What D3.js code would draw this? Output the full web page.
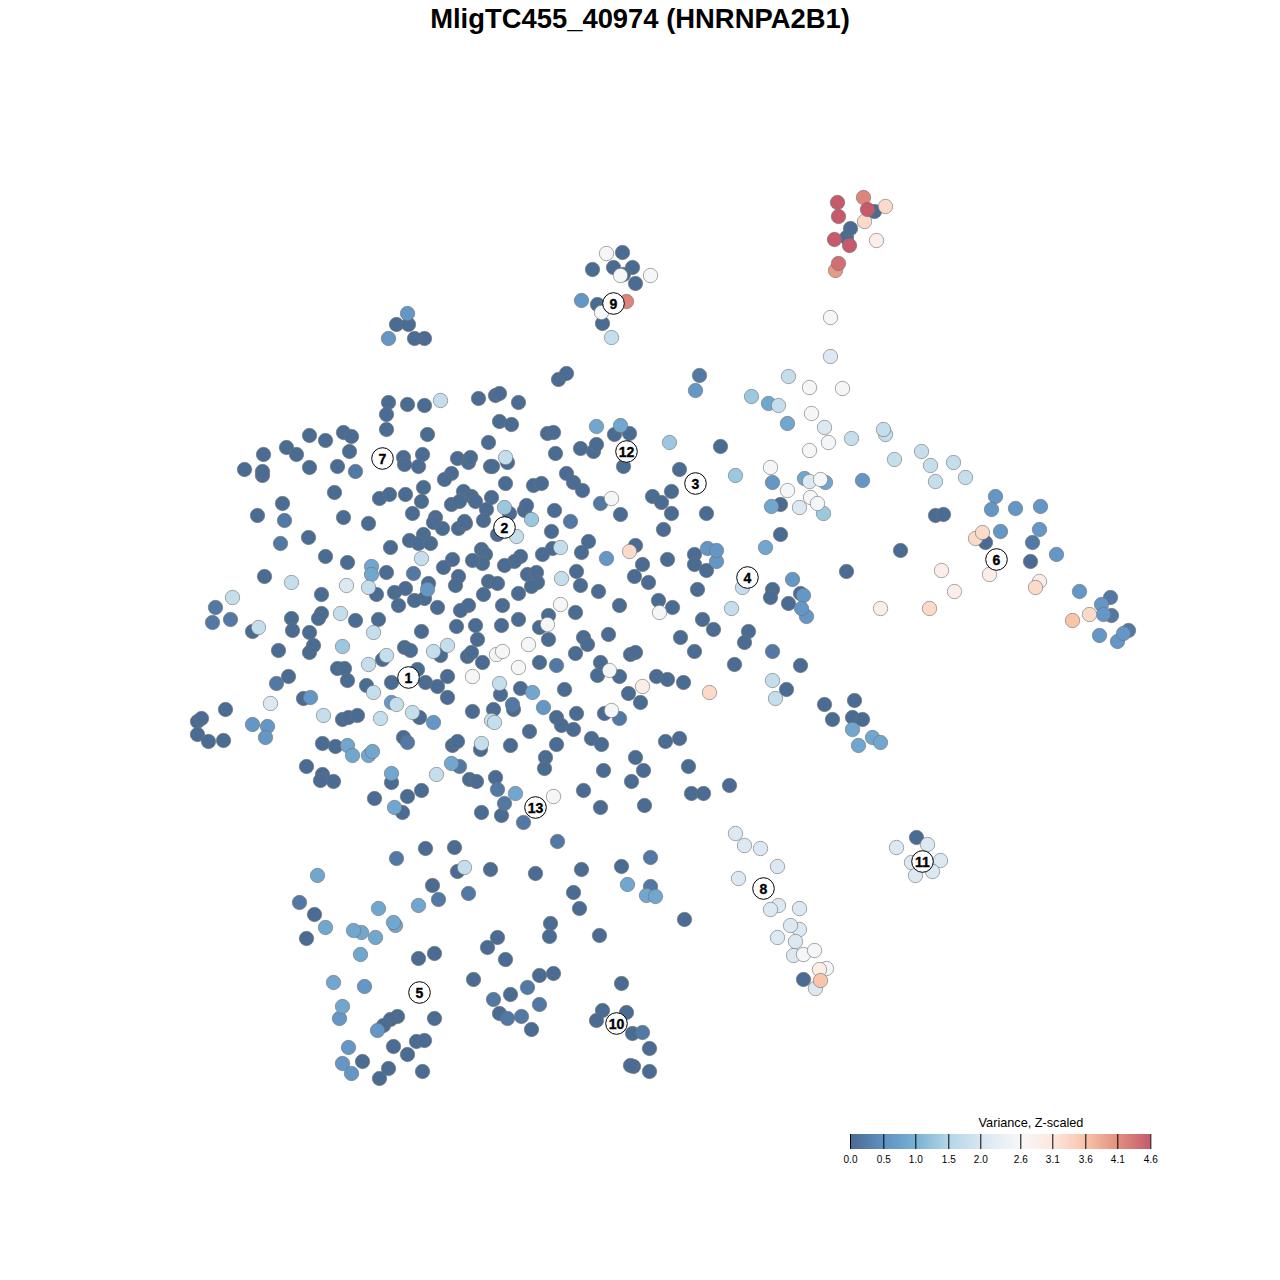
<!DOCTYPE html>
<html><head><meta charset="utf-8"><style>html,body{margin:0;background:#fff}svg{display:block}</style>
<script src="https://cdn.jsdelivr.net/npm/d3@7"></script></head><body><svg id="c" width="1280" height="1280"></svg>
<script>
const chartTitle="MligTC455_40974 (HNRNPA2B1)";
const legendTitle="Variance, Z-scaled";
const legendTicks=[0,0.5,1,1.5,2,2.6,3.1,3.6,4.1,4.6];
const legendTickLabels=["0.0","0.5","1.0","1.5","2.0","2.6","3.1","3.6","4.1","4.6"];
const paletteStops=["#4a6a90","#5f90c3","#78b0d4","#b3d6e6","#d6e6f1","#f7f7f7","#fde8de","#f8c4aa","#e38f7f","#c65a6b"];
const clusterIds=[1,2,3,4,5,6,7,8,9,10,11,12,13];
const clusterX=[408,504,695,747,419,996,382,763,613,616,922,626,535];
const clusterY=[677,527,483,577,992,559,458,888,303,1023,861,451,807];
// x,y pairs in map units, grouped by variance level
const var01=[388,402,407,404,424,405,478,398,495,395,499,393,386,414,386,429,427,434,488,442,499,421,309,435,325,440,343,432,351,436,349,451,286,447,296,454,263,454,244,469,262,475,262,471,309,467,337,466,403,457,404,464,422,454,418,466,457,458,468,462,470,457,490,466,451,473,444,479,334,492,379,498,389,494,405,494,423,487,421,501,463,491,471,496,451,504,459,501,475,501,491,497,486,509,505,483,282,503,257,515,343,517,368,523,412,513,435,517,433,522,442,528,458,528,465,523,464,521,483,520,308,537,390,547,409,540,423,534,418,543,430,543,481,549,485,554,482,563,472,560,452,559,443,567,325,556,347,562,386,572,458,576,455,585,488,581,264,576,376,594,394,592,405,588,428,583,424,598,414,600,398,605,483,594,321,594,437,607,468,605,460,610,502,605,291,618,321,613,318,618,355,620,378,619,252,631,292,630,309,632,309,652,313,645,278,650,421,631,456,626,475,625,501,625,477,639,404,647,410,650,382,659,440,655,467,656,471,652,482,662,337,668,344,668,347,680,288,676,366,685,391,682,417,669,425,682,437,686,447,676,500,694,447,697,303,698,419,717,472,711,493,709,342,719,348,717,357,715,225,709,197,721,201,718,197,734,208,741,223,740,322,743,335,746,403,737,452,745,457,741,480,749,306,766,322,774,320,780,333,781,391,782,469,779,476,781,495,777,421,790,407,796,374,798,402,812,481,812,425,848,454,847,518,619,539,627,548,615,575,612,548,639,583,637,587,644,608,634,575,653,539,662,600,662,597,675,619,676,630,654,635,652,680,637,702,619,713,629,748,631,744,642,694,651,734,664,800,665,656,676,667,679,683,682,628,693,640,702,786,689,520,688,564,689,513,709,556,717,576,713,561,725,573,729,604,713,529,731,510,745,556,744,591,738,601,744,665,741,679,738,635,757,545,757,544,768,603,770,643,770,631,781,688,766,729,785,691,793,703,793,583,790,600,807,644,805,501,815,558,379,566,373,518,402,511,424,547,433,553,432,614,434,629,433,593,451,596,444,580,448,555,453,623,466,720,446,507,462,492,466,566,473,573,482,582,490,533,485,541,483,679,469,509,513,524,510,526,505,554,510,497,534,620,514,652,496,671,491,661,502,671,513,706,513,663,529,551,531,588,541,581,552,552,548,542,554,520,556,514,561,504,565,635,545,642,564,634,576,648,582,667,559,694,554,694,564,706,570,780,534,527,574,536,572,537,582,531,586,518,593,497,583,576,571,580,585,598,591,619,605,697,589,658,600,672,607,772,589,770,597,800,593,788,603,874,211,846,237,850,228,780,504,935,515,943,514,985,542,900,550,1030,561,846,571,622,252,592,269,613,267,632,267,623,274,635,283,597,304,602,323,396,324,408,324,424,338,414,338,457,871,490,869,432,885,314,914,306,938,418,958,434,953,487,947,497,937,505,959,473,979,397,1016,390,1019,383,1025,434,1018,499,1013,416,1041,424,1040,393,1046,407,1054,362,1061,388,1068,379,1078,422,1071,535,873,581,869,621,866,573,892,579,908,684,919,550,923,549,936,599,935,553,973,539,975,621,983,510,994,602,1010,626,1012,596,1020,531,1029,632,1033,649,1048,633,1066,630,1065,649,1071,916,837,803,979,824,704,854,700,832,719,852,717,862,719];
const var03=[355,471,284,520,280,543,413,573,276,683,407,742,497,789,459,766,438,899,493,999,507,1018,527,987,521,1016,539,1004,650,857,396,858,523,822,504,803,512,704,772,651,600,503,570,521,619,718,556,665,230,619,215,607,212,622,1032,542,1110,597,1111,615,1128,630,468,893,299,902,650,886,642,1032,557,841,699,375];
const var06=[427,589,543,707,606,558,252,724,267,726,265,737,391,702,433,722,310,697,707,548,716,561,716,550,792,579,803,595,806,616,801,608,862,480,772,482,995,496,991,509,1015,508,1040,506,1000,531,1039,529,1056,554,1079,591,1101,604,1103,614,1099,635,1117,641,1123,633,581,300,407,313,388,338,695,390,377,1030,339,1018,348,1047,342,1063,351,1073,364,986];
const var08=[371,566,371,574,347,745,352,755,368,755,372,751,391,773,394,807,451,763,515,793,596,426,620,425,765,547,804,478,825,482,771,506,768,403,787,423,532,692,317,875,378,908,418,905,325,927,361,932,353,930,395,925,393,922,375,937,360,954,333,982,342,1006,627,884,646,895,655,896,852,729,872,737,880,742,858,745];
const var13=[751,396,669,442,735,475,504,507,531,519,823,513,342,646];
const var17=[440,400,291,582,421,558,368,587,232,597,340,613,258,627,373,632,561,578,560,547,505,457,516,536,386,655,368,664,433,651,447,645,373,692,412,712,396,704,323,715,380,718,491,720,494,722,436,774,481,743,499,683,775,698,772,680,464,867,788,376,778,405,851,438,885,434,883,429,921,451,894,459,930,465,953,462,965,477,935,481,742,587,731,608,611,337];
const var21=[270,703,830,356,824,427,809,481,799,507,735,833,744,845,760,848,777,866,799,929,799,908,777,937,793,955,896,847,927,844,911,862,940,860,932,871,915,875,738,878,778,905,770,909,790,925,795,941,815,988,346,585];
const var25=[830,317,809,387,842,388,811,413,828,442,809,450,770,467,820,479,787,490,810,497,817,503,606,253,620,275,650,275,601,312,611,498,560,604,659,612,547,624,528,644,496,654,502,651,472,676,518,667,609,670,611,710,553,796,803,954,814,950,826,968];
const var29=[642,686,880,608,876,240,941,570,989,574,1039,581,954,591,819,969];
const var33=[629,551,975,538,709,692,864,221,1035,587,929,608,1089,614,885,206,982,532];
const var36=[820,980,1072,620];
const var40=[835,270];
const var42=[863,197,626,301];
const var44=[838,263];
const var46=[837,202,867,209,838,216,834,239,849,245];
const varianceLevels=[0.02,0.2,0.6,0.85,1.3,1.75,2.1,2.55,2.9,3.3,3.6,4.0,4.2,4.4,4.6];
const levelPoints=[var01,var03,var06,var08,var13,var17,var21,var25,var29,var33,var36,var40,var42,var44,var46];

const svg=d3.select("#c");
const FONT="'Liberation Sans',Arial,sans-serif";
const x=d3.scaleLinear().domain([0,1280]).range([0.5,1280.5]);
const y=d3.scaleLinear().domain([0,1280]).range([0.5,1280.5]);
const color=d3.scaleLinear().domain(legendTicks).range(paletteStops).interpolate(d3.interpolateRgb).clamp(true);
const cells=levelPoints.flatMap((arr,i)=>d3.range(0,arr.length,2).map(k=>({x:arr[k],y:arr[k+1],v:varianceLevels[i]})));

svg.append("text").attr("x",640).attr("y",27.5).attr("text-anchor","middle")
  .attr("font-family",FONT).attr("font-weight","bold").attr("font-size",27.4).attr("fill","#000").text(chartTitle);

svg.append("g").selectAll("circle").data(cells).join("circle")
  .attr("cx",d=>x(d.x)).attr("cy",d=>y(d.y)).attr("r",7.2)
  .attr("fill",d=>color(d.v)).attr("stroke","#6f6f6f").attr("stroke-opacity",0.6).attr("stroke-width",1);

const lab=svg.append("g").selectAll("g").data(clusterIds).join("g")
  .attr("transform",(d,i)=>`translate(${x(clusterX[i])},${y(clusterY[i])})`);
lab.append("circle").attr("r",10.8).attr("fill","#fff").attr("stroke","#000").attr("stroke-width",1);
lab.append("text").attr("text-anchor","middle").attr("y",5).attr("font-family",FONT)
  .attr("font-weight","bold").attr("font-size",14).attr("fill","#000").attr("stroke","#000").attr("stroke-width",0.35).text(d=>d);

// legend
const legendX=d3.scaleLinear().domain(legendTicks).range([850,883.3,915.3,948.3,980.3,1020.3,1052.3,1085.3,1117.3,1150.3]);
const defs=svg.append("defs");
const grad=defs.append("linearGradient").attr("id","lg").attr("gradientUnits","userSpaceOnUse")
  .attr("x1",850).attr("x2",1150.3).attr("y1",0).attr("y2",0);
grad.selectAll("stop").data(legendTicks).join("stop")
  .attr("offset",d=>(legendX(d)-850)/300.3).attr("stop-color",d=>color(d));
svg.append("rect").attr("x",850).attr("y",1134).attr("width",300.3).attr("height",15).attr("fill","url(#lg)");
const ax=svg.append("g").attr("transform","translate(0,1149)")
  .call(d3.axisBottom(legendX).tickValues(legendTicks).tickSize(-15).tickPadding(4).tickFormat((d,i)=>legendTickLabels[i]));
ax.select(".domain").remove();
ax.selectAll("line").attr("stroke","#000").attr("stroke-width",1);
ax.selectAll("text").attr("font-family",FONT).attr("font-size",10).attr("fill","#000").attr("y",7).attr("dy","0.71em");
svg.append("text").attr("x",1031).attr("y",1126.5).attr("text-anchor","middle").attr("font-family",FONT)
  .attr("font-size",12.7).attr("fill","#000").text(legendTitle);
</script></body></html>
